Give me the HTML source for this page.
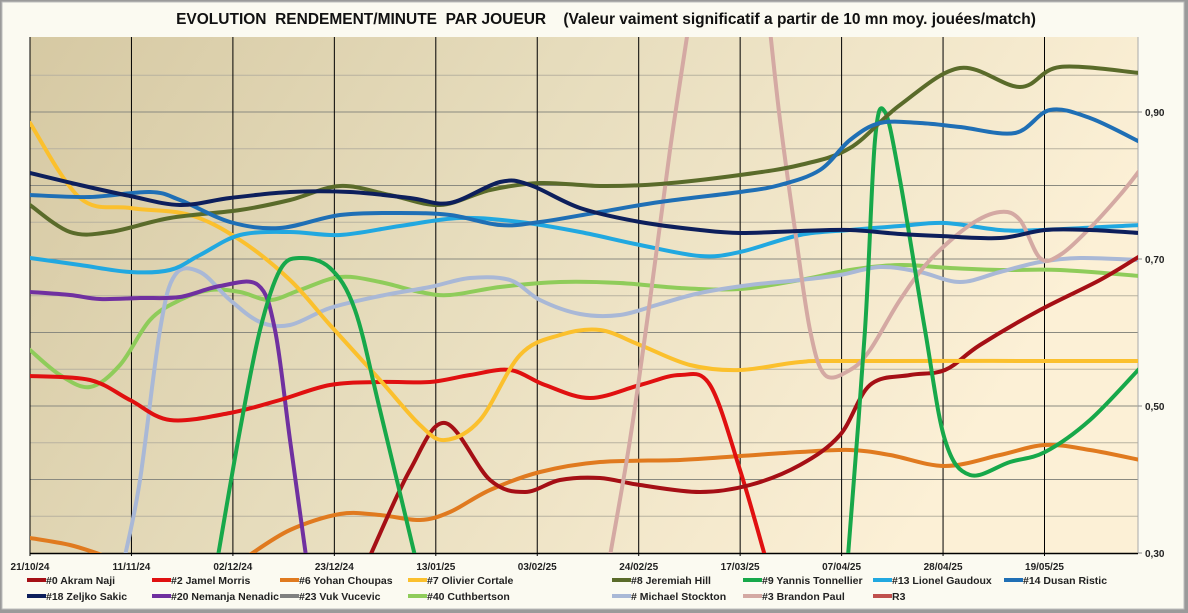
<!DOCTYPE html>
<html><head><meta charset="utf-8"><style>
html,body{margin:0;padding:0;background:#fff}
#w{position:relative;width:1188px;height:613px;overflow:hidden}
</style></head><body><div id="w">
<svg id="s" width="1188" height="613" xmlns="http://www.w3.org/2000/svg" font-family="Liberation Sans, sans-serif">
<defs>
<linearGradient id="bg" x1="0" y1="0" x2="1" y2="0.3">
<stop offset="0" stop-color="#d6c9a3"/><stop offset="0.45" stop-color="#e6dcbc"/><stop offset="1" stop-color="#fcf0d6"/>
</linearGradient>
<clipPath id="cp"><rect x="30" y="37" width="1108" height="516"/></clipPath>
</defs>
<rect x="0" y="0" width="1188" height="613" fill="#9a9a9a"/>
<rect x="2" y="2" width="1182" height="607" fill="#fbfaf1" stroke="#bdbdbd"/>
<rect x="30" y="37" width="1108" height="516" fill="url(#bg)"/>
<g id="grid"></g>
<g id="lines" clip-path="url(#cp)" fill="none" stroke-width="4" stroke-linecap="round" stroke-linejoin="round"></g>
<text x="606" y="24" text-anchor="middle" font-size="15.5" font-weight="bold" fill="#111" xml:space="preserve">EVOLUTION  RENDEMENT/MINUTE  PAR JOUEUR    (Valeur vaiment significatif a partir de 10 mn moy. jouées/match)</text>
<g id="lab" font-size="10" font-weight="bold" fill="#222"></g>
<g id="leg" font-size="10.5" font-weight="bold" fill="#222"></g>
</svg>
<script>
var NS="http://www.w3.org/2000/svg";
function el(p,t,a,txt){var e=document.createElementNS(NS,t);for(var k in a)e.setAttribute(k,a[k]);if(txt)e.textContent=txt;p.appendChild(e);return e;}
var g=document.getElementById('grid'),lab=document.getElementById('lab');
for(var i=1;i<14;i++){var y=553-i*36.75;el(g,'line',{x1:30,x2:1138,y1:y,y2:y,stroke:(i%2==0)?'#8a8a80':'#b8b2a0','stroke-width':1});}
var dates=["21/10/24","11/11/24","02/12/24","23/12/24","13/01/25","03/02/25","24/02/25","17/03/25","07/04/25","28/04/25","19/05/25"];
for(var i=0;i<11;i++){var x=30+i*101.45;el(g,'line',{x1:x,x2:x,y1:37,y2:556,stroke:'#000','stroke-width':1});el(lab,'text',{x:x,y:570,'text-anchor':'middle'},dates[i]);}
el(g,'line',{x1:30,x2:1138,y1:553.5,y2:553.5,stroke:'#000','stroke-width':1.5});
el(g,'line',{x1:1138,x2:1138,y1:37,y2:553,stroke:'#aaa','stroke-width':1});
[[112,"0,90"],[259,"0,70"],[406,"0,50"],[553,"0,30"]].forEach(function(a){el(lab,'text',{x:1145,y:a[0]+4},a[1]);el(g,'line',{x1:1138,x2:1142,y1:a[0],y2:a[0],stroke:'#888'});});
function cr(p){var d="M"+p[0][0]+","+p[0][1];for(var i=0;i<p.length-1;i++){var p0=p[i-1]||p[i],p1=p[i],p2=p[i+1],p3=p[i+2]||p2;
d+=" C"+(p1[0]+(p2[0]-p0[0])/6)+","+(p1[1]+(p2[1]-p0[1])/6)+" "+(p2[0]-(p3[0]-p1[0])/6)+","+(p2[1]-(p3[1]-p1[1])/6)+" "+p2[0]+","+p2[1];}return d;}
function P(s){return s.trim().split(/\s+/).map(function(t){return t.split(',').map(Number);});}
var S=[
["#e07a1f","30,538 70,545 105,556"],["#e07a1f","248,556 290,530 340,514 380,515 420,520 450,512 490,490 540,472 600,462 680,460 740,456 800,452 850,450 890,455 945,466 1000,455 1045,445 1090,450 1140,460"],
["#8fcc5a","30,350 60,375 90,387 120,365 150,320 180,300 210,290 240,292 270,300 300,290 340,277 380,282 420,292 450,295 500,287 560,282 620,283 680,288 740,289 800,280 850,270 900,265 950,268 1000,270 1060,270 1140,276"],
["#a9b8d6","125,556 140,480 160,330 175,275 200,272 230,300 260,322 290,325 330,308 380,296 430,287 470,278 510,280 540,300 580,314 620,315 660,304 700,293 750,285 800,280 840,275 880,267 920,272 960,282 1000,272 1040,262 1080,258 1140,260"],
["#7030a0","30,292 70,295 100,299 140,298 180,297 220,286 258,285 275,330 290,440 306,556"],
["#e01010","30,376 90,380 130,400 170,420 230,413 280,400 330,385 380,382 430,382 470,375 510,370 545,385 590,398 640,385 680,375 710,385 740,470 765,556"],
["#a50f15","370,556 410,470 445,423 490,480 525,492 560,480 600,478 640,485 700,492 750,485 800,465 840,435 870,385 910,375 945,370 980,345 1040,310 1100,280 1140,256"],
["#fbc02d","30,123 80,198 130,208 190,215 240,240 290,280 330,325 380,380 420,425 445,440 480,420 520,355 560,335 600,330 640,345 690,365 740,370 800,362 850,361 1140,361"],
["#21a8e0","30,258 80,265 130,272 170,270 200,255 240,235 290,232 340,235 400,226 460,218 520,222 580,232 640,245 700,256 740,252 800,235 850,230 900,226 945,223 1000,230 1040,230 1140,225"],
["#d4a9a3","610,556 630,440 650,300 670,150 688,30"],["#d4a9a3","770,30 780,120 795,230 810,330 825,375 850,370 870,350 900,300 930,260 970,225 1000,212 1020,220 1040,258 1060,255 1090,228 1120,195 1140,170"],
["#17a84a","218,556 240,430 260,330 280,270 300,258 330,268 355,310 380,410 415,556"],["#17a84a","848,556 865,330 875,140 885,112 900,180 925,330 945,440 970,475 1010,462 1045,452 1090,420 1140,368"],
["#5a6b2a","30,205 70,232 110,232 170,218 240,210 290,200 340,186 390,195 440,205 490,190 540,183 600,186 660,184 740,175 800,165 850,148 900,105 960,68 1020,87 1060,67 1140,73"],
["#1f6fb5","30,195 90,197 150,192 180,200 230,222 280,228 340,215 400,213 450,215 500,225 540,222 600,212 660,202 740,192 780,185 820,170 850,140 880,123 920,123 960,127 1015,133 1050,110 1090,118 1140,142"],
["#0d1f5c","30,173 80,185 130,196 180,205 230,198 290,192 350,192 410,198 450,203 500,182 530,185 580,208 640,222 700,230 740,233 800,231 850,230 900,234 940,236 1000,238 1045,230 1090,230 1140,233"]
];
var L=document.getElementById('lines');
S.forEach(function(s){el(L,'path',{d:cr(P(s[1])),stroke:s[0]});});
var leg=document.getElementById('leg');
var items=[["#a50f15","#0 Akram Naji"],["#e01010","#2 Jamel Morris"],["#e07a1f","#6 Yohan Choupas"],["#fbc02d","#7 Olivier Cortale"],["#5a6b2a","#8 Jeremiah Hill"],["#17a84a","#9 Yannis Tonnellier"],["#21a8e0","#13 Lionel Gaudoux"],["#1f6fb5","#14 Dusan Ristic"],
["#0d1f5c","#18 Zeljko Sakic"],["#7030a0","#20 Nemanja Nenadic"],["#808080","#23 Vuk Vucevic"],["#8fcc5a","#40 Cuthbertson"],["#a9b8d6","#   Michael Stockton"],["#d4a9a3","#3 Brandon Paul"],["#c0504d","R3"]];
var cx=[27,152,280,408,612,743,873,1004];
items.forEach(function(it,i){var c=i%8,r=Math.floor(i/8),y=r?596:580;
el(leg,'line',{x1:cx[c],x2:cx[c]+19,y1:y,y2:y,stroke:it[0],'stroke-width':4});
el(leg,'text',{x:cx[c]+19,y:y+4,'xml:space':'preserve'},it[1]);});
</script>
</div></body></html>
